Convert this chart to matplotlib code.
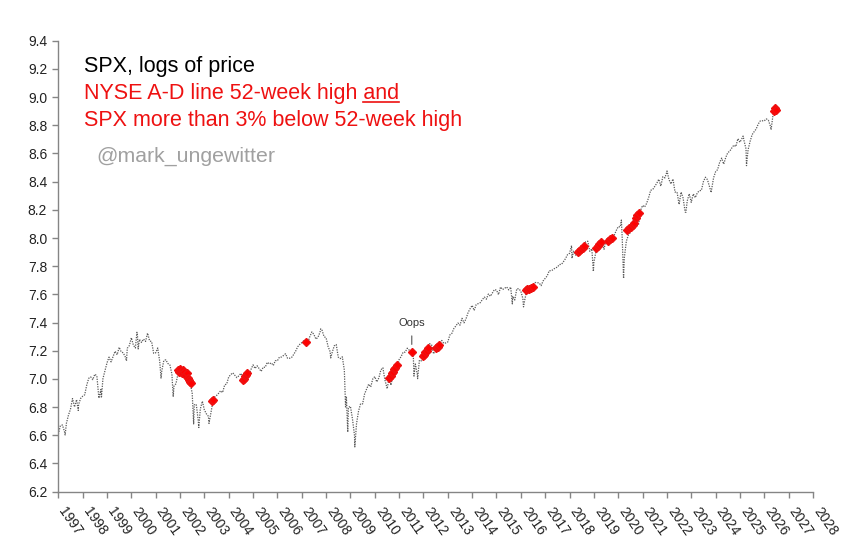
import numpy as np
import matplotlib
matplotlib.use("Agg")
import matplotlib.pyplot as plt

plt.rcParams['font.family'] = ['Liberation Sans', 'DejaVu Sans']

# ---- Data: SPX month-end closes (price), log is plotted ----
start_date = 1996.999
start_close = 740.7
closes_1997_2001 = [
    786, 791, 757, 801, 848, 885, 954, 899, 947, 915, 955, 970,
    980, 1049, 1102, 1112, 1091, 1134, 1121, 957, 1017, 1099, 1164, 1229,
    1280, 1238, 1286, 1335, 1302, 1373, 1329, 1320, 1283, 1363, 1389, 1469,
    1394, 1366, 1499, 1452, 1421, 1455, 1431, 1518, 1437, 1429, 1315, 1320,
    1366, 1240, 1160, 1249, 1256, 1224, 1211, 1134, 1041, 1060, 1139, 1148,
]
closes_2002_2006 = [
    1130, 1107, 1147, 1077, 1067, 990, 912, 916, 815, 886, 936, 880,
    856, 841, 848, 917, 964, 975, 990, 1008, 996, 1051, 1058, 1112,
    1131, 1145, 1126, 1107, 1121, 1141, 1102, 1104, 1115, 1130, 1174, 1212,
    1181, 1204, 1181, 1157, 1192, 1191, 1234, 1220, 1229, 1207, 1249, 1248,
    1280, 1281, 1295, 1311, 1270, 1270, 1277, 1304, 1336, 1378, 1401, 1418,
]
closes_2007_2011 = [
    1438, 1407, 1421, 1482, 1531, 1503, 1455, 1474, 1527, 1549, 1481, 1468,
    1379, 1331, 1323, 1386, 1400, 1280, 1267, 1283, 1166, 969, 896, 903,
    826, 735, 798, 873, 919, 919, 987, 1021, 1057, 1036, 1096, 1115,
    1074, 1104, 1169, 1187, 1089, 1031, 1102, 1049, 1141, 1183, 1181, 1258,
    1286, 1327, 1326, 1364, 1345, 1321, 1292, 1219, 1131, 1253, 1247, 1258,
]
closes_2012_2016 = [
    1312, 1366, 1408, 1398, 1310, 1362, 1379, 1407, 1441, 1412, 1416, 1426,
    1498, 1515, 1569, 1598, 1631, 1606, 1686, 1633, 1682, 1757, 1806, 1848,
    1783, 1859, 1872, 1884, 1924, 1960, 1931, 2003, 1972, 2018, 2068, 2059,
    1995, 2105, 2068, 2086, 2107, 2063, 2104, 1972, 1920, 2079, 2080, 2044,
    1940, 1932, 2060, 2065, 2097, 2099, 2174, 2171, 2168, 2126, 2199, 2239,
]
closes_2017_2021 = [
    2279, 2364, 2363, 2384, 2412, 2423, 2470, 2472, 2519, 2575, 2648, 2674,
    2824, 2714, 2641, 2648, 2705, 2718, 2816, 2902, 2914, 2712, 2760, 2507,
    2704, 2784, 2834, 2946, 2752, 2942, 2980, 2926, 2977, 3038, 3141, 3231,
    3226, 2954, 2585, 2912, 3044, 3100, 3271, 3500, 3363, 3270, 3622, 3756,
    3714, 3811, 3973, 4181, 4204, 4298, 4395, 4523, 4308, 4605, 4567, 4766,
]
closes_2022_2025 = [
    4516, 4374, 4530, 4132, 4132, 3785, 4130, 3955, 3586, 3872, 4080, 3840,
    4077, 3970, 4109, 4169, 4180, 4450, 4589, 4508, 4288, 4194, 4568, 4770,
    4846, 5096, 5254, 5036, 5278, 5460, 5522, 5648, 5762, 5705, 6032, 5882,
    6041, 5955, 5612, 5569, 5912, 6205, 6339, 6460, 6688, 6840, 6849, 6845,
]
# 2026 readings (date, close)
tail_dates = [2026.083, 2026.167, 2026.25, 2026.28, 2026.36, 2026.42, 2026.47]
tail_closes = [6940, 6880, 6600, 6430, 7150, 7400, 7480]

# intra-month extremes
extra_dates = [1997.28, 1997.82, 1998.77, 1999.80, 2000.23, 2000.28, 2001.22,
               2001.72, 2002.56, 2002.77, 2003.19, 2007.78, 2008.19, 2008.80,
               2008.89, 2009.18, 2010.51, 2011.61, 2011.76, 2015.65, 2016.11,
               2018.10, 2018.98, 2020.13, 2020.22, 2022.005, 2022.78, 2023.82,
               2025.13, 2025.27]
extra_closes = [737, 877, 959, 1247, 1527, 1357, 1103,
                966, 797, 777, 800, 1565, 1273, 899,
                752, 677, 1023, 1119, 1099, 1868, 1829,
                2581, 2351, 3386, 2237, 4797, 3577, 4117,
                6144, 4982]

# Signal days (A-D line 52w high and SPX > 3% below 52w high), log price
signal_dates = [2001.93, 2001.97, 2002.01, 2002.05, 2002.09, 2002.13, 2002.18,
                2002.22, 2002.27, 2002.33, 2002.38, 2002.43, 2002.47,
                2003.33, 2003.36,
                2004.60, 2004.64, 2004.68, 2004.72, 2004.77,
                2007.18,
                2010.60, 2010.65, 2010.70, 2010.75, 2010.80, 2010.85, 2010.90,
                2011.52,
                2011.98, 2012.03, 2012.08, 2012.13, 2012.18,
                2012.50, 2012.55, 2012.60, 2012.65,
                2016.20, 2016.27, 2016.35, 2016.43, 2016.50,
                2018.33, 2018.40, 2018.47, 2018.54, 2018.60,
                2019.08, 2019.15, 2019.22, 2019.30,
                2019.60, 2019.68, 2019.75,
                2020.38, 2020.45, 2020.52, 2020.60, 2020.66,
                2020.73, 2020.78, 2020.85,
                2026.40, 2026.44, 2026.47]
signal_logs = [7.06, 7.05, 7.07, 7.05, 7.04, 7.06, 7.05,
               7.03, 7.04, 7.01, 6.99, 6.98, 6.97,
               6.84, 6.85,
               6.99, 7.00, 7.02, 7.03, 7.04,
               7.265,
               7.01, 7.02, 7.04, 7.05, 7.07, 7.08, 7.10,
               7.19,
               7.16, 7.17, 7.19, 7.20, 7.22,
               7.22, 7.23, 7.23, 7.24,
               7.63, 7.635, 7.64, 7.645, 7.65,
               7.90, 7.91, 7.92, 7.93, 7.94,
               7.93, 7.94, 7.96, 7.97,
               7.98, 7.99, 8.00,
               8.06, 8.07, 8.08, 8.09, 8.11,
               8.14, 8.16, 8.18,
               8.90, 8.92, 8.91]

year_ticks = list(range(1997, 2029))
y_ticks = [6.2, 6.4, 6.6, 6.8, 7.0, 7.2, 7.4, 7.6, 7.8, 8.0, 8.2, 8.4, 8.6, 8.8, 9.0, 9.2, 9.4]

# ---- build series ----
monthly = closes_1997_2001 + closes_2002_2006 + closes_2007_2011 + closes_2012_2016 + closes_2017_2021 + closes_2022_2025
mdates = [1997 + (i + 1) / 12.0 for i in range(len(monthly))]
dates = [start_date] + mdates + extra_dates + tail_dates
prices = [start_close] + monthly + extra_closes + tail_closes
order = np.argsort(dates)
d = np.array(dates)[order]
p = np.log(np.array(prices, dtype=float)[order])

fig = plt.figure(figsize=(8.6, 5.54), dpi=100)
ax = fig.add_axes([0.0678, 0.1125, 0.8775, 0.814])

axis_col = '#858585'
ax.plot(d, p, color='#5a5a5a', lw=0.9, linestyle=(0, (1.0, 1.0)), zorder=2)
ax.plot(signal_dates, signal_logs, linestyle='none', marker='D', markersize=3.6,
        color='#ff0000', markeredgecolor='#ee1111', zorder=3)

ax.set_xlim(1997, 2028)
ax.set_ylim(6.2, 9.4)
ax.set_yticks(y_ticks)
ax.set_yticklabels([f"{v:.1f}" for v in y_ticks], fontsize=10, color='#222222')
ax.set_xticks(year_ticks)
ax.set_xticklabels([str(y) for y in year_ticks], rotation=-55, ha='left', va='baseline',
                   rotation_mode='anchor', fontsize=10, color='#222222')
for s in ['top', 'right']:
    ax.spines[s].set_visible(False)
for s in ['left', 'bottom']:
    ax.spines[s].set_color(axis_col)
    ax.spines[s].set_linewidth(1.0)
ax.tick_params(axis='both', direction='out', length=4, width=1.0, color=axis_col)
ax.tick_params(axis='y', pad=4)
ax.tick_params(axis='x', pad=10)

# Oops annotation
ax.annotate('Oops', xy=(2011.52, 7.245), xytext=(2011.52, 7.40),
            ha='center', va='center', fontsize=8, color='#333333',
            arrowprops=dict(arrowstyle='-', color='#555555', lw=0.8, shrinkA=4, shrinkB=0))

# Title texts
tx = 0.0977
fig.text(tx, 0.8706, 'SPX, logs of price', fontsize=15.5, color='black', va='baseline')
red = '#ee1111'
line2 = 'NYSE A-D line 52-week high and'
t2 = fig.text(tx, 0.8213, line2, fontsize=15.5, color=red, va='baseline')
fig.text(tx, 0.7726, 'SPX more than 3% below 52-week high', fontsize=15.5, color=red, va='baseline')
fig.text(0.1116, 0.7081, '@mark_ungewitter', fontsize=15.3, color='#a0a0a0', va='baseline')

# underline "and"
fig.canvas.draw()
r = fig.canvas.get_renderer()
bb = t2.get_window_extent(renderer=r)
tmp = fig.text(0, 0, 'and', fontsize=15.5)
wb = tmp.get_window_extent(renderer=r)
tmp.remove()
W, H = fig.get_size_inches() * fig.dpi
x1 = bb.x1
x0 = x1 - wb.width
yb = 0.8213 * H - 3
fig.add_artist(plt.Line2D([x0 / W, x1 / W], [yb / H, yb / H], color=red, lw=1.2))

fig.savefig('out.png', dpi=100)
